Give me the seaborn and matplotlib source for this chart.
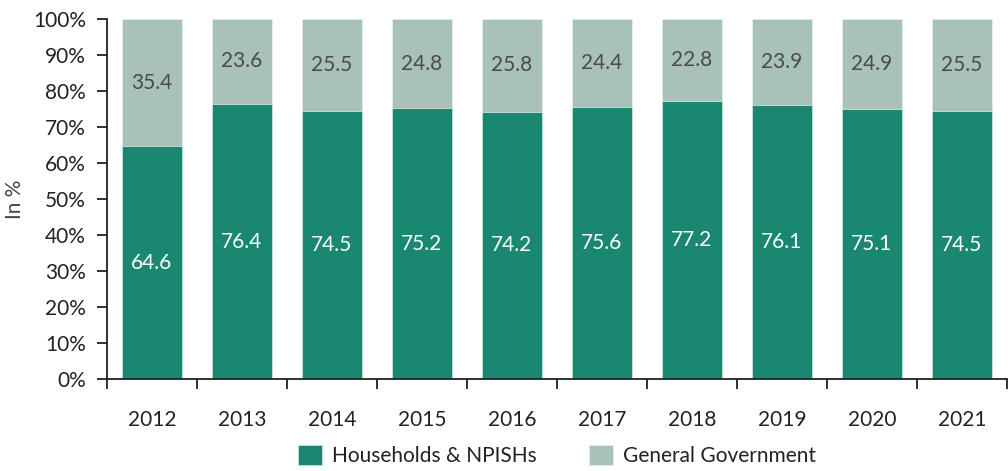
import matplotlib
matplotlib.use('Agg')

import pandas as pd
import matplotlib.pyplot as plt
import seaborn as sns
import numpy as np

years = ['2012', '2013', '2014', '2015', '2016', '2017', '2018', '2019', '2020', '2021']
households = [64.6, 76.4, 74.5, 75.2, 74.2, 75.6, 77.2, 76.1, 75.1, 74.5]
government = [35.4, 23.6, 25.5, 24.8, 25.8, 24.4, 22.8, 23.9, 24.9, 25.5]

dark = '#1a8870'
light = '#a9c2b9'

sns.set_style('ticks')
plt.rcParams['font.family'] = ['Lato', 'DejaVu Sans']

df = pd.DataFrame({'year': years, 'hh': households, 'gov': government})
df['total'] = df['hh'] + df['gov']

fig = plt.figure(figsize=(10.08, 4.71), dpi=100)
ax = fig.add_axes([0.106, 0.195, 0.893, 0.765])

# light bar = full 100%, dark bar drawn on top
sns.barplot(data=df, x='year', y='total', color=light, width=0.667,
            edgecolor='#e6eeeb', linewidth=0.6, saturation=1, ax=ax,
            label='General Government')
sns.barplot(data=df, x='year', y='hh', color=dark, width=0.667,
            edgecolor='#cfe3dc', linewidth=0.6, saturation=1, ax=ax,
            label='Households & NPISHs')

for i, (h, g) in enumerate(zip(households, government)):
    ax.text(i, h / 2, f'{h:.1f}', ha='center', va='center', color='white', fontsize=15)
    ax.text(i, h + g / 2, f'{g:.1f}', ha='center', va='center', color='#4a4a4a', fontsize=15)

ax.set_ylim(0, 100)
ax.set_xlim(-0.5, 9.5)
ax.set_yticks(np.arange(0, 101, 10))
ax.set_yticklabels([f'{v}%' for v in range(0, 101, 10)], fontsize=15, color='#222222')
ax.set_xticks(np.arange(10))
ax.set_xticklabels(years, fontsize=15, color='#222222')
ax.tick_params(axis='x', which='major', length=0, pad=22)
ax.set_xticks(np.arange(-0.5, 10, 1), minor=True)
ax.tick_params(axis='x', which='minor', length=7, width=1.3, color='#222222')
ax.tick_params(axis='y', length=7, width=1.3, color='#222222', pad=8)
ax.set_xlabel('')
ax.set_ylabel('In %', fontsize=15, color='#444444', labelpad=6)
sns.despine(ax=ax)
ax.spines['left'].set_linewidth(1.3)
ax.spines['bottom'].set_linewidth(1.3)
ax.spines['left'].set_color('#222222')
ax.spines['bottom'].set_color('#222222')

handles, labels = ax.get_legend_handles_labels()
ax.legend(handles[::-1], labels[::-1], loc='center', bbox_to_anchor=(0.5, -0.212),
          ncol=2, frameon=False, fontsize=15, handlelength=1.15, handleheight=1.1,
          columnspacing=2.5, handletextpad=0.5, labelcolor='#222222')

fig.savefig('out.png', dpi=100)
